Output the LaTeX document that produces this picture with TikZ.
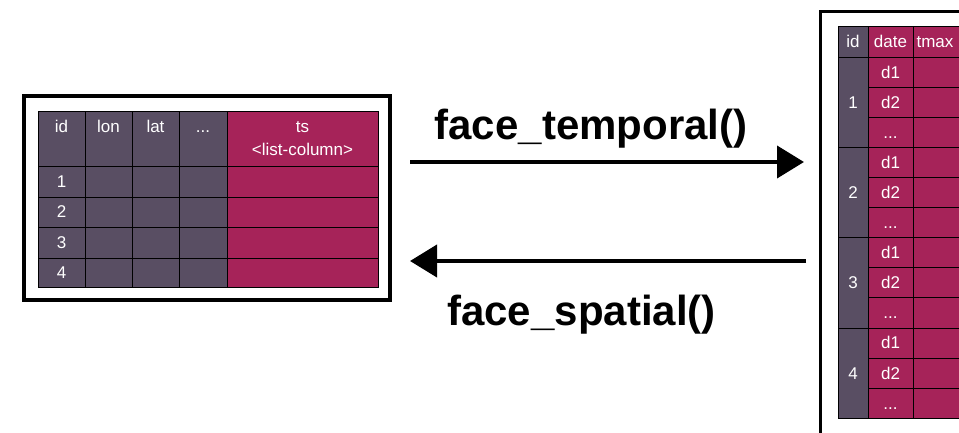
\documentclass[tikz,border=0pt]{standalone}
\usepackage{fontspec}
\setmainfont{Liberation Sans}
\usetikzlibrary{arrows.meta}
\definecolor{spcol}{RGB}{89,78,99}
\definecolor{tscol}{RGB}{166,35,89}
\newcommand{\celldots}{...}

\begin{document}
\begin{tikzpicture}[x=1pt,y=-1pt,
    cell/.style={draw=black,line width=0.8pt},
    lbl/.style={text=white,font=\fontsize{17}{19}\selectfont,inner sep=0pt,
      text height=12pt,text depth=0pt},
    fn/.style={font=\fontsize{42}{46}\selectfont\bfseries,inner sep=0pt,anchor=base},
    bigarrow/.style={line width=4pt,-{Triangle[length=27pt,width=32pt]}}]
    \useasboundingbox (0,0) rectangle (959,433);
    \clip (0,0) rectangle (959,433);
    % spatial table (left)
    \foreach \xa/\xb in {38/85,85/132,132/179,179/227}
      \foreach \ya/\yb in {111/166,166/197,197/227,227/258,258/287}
        \draw[cell,fill=spcol] (\xa,\ya) rectangle (\xb,\yb);
    \foreach \ya/\yb in {111/166,166/197,197/227,227/258,258/287}
      \draw[cell,fill=tscol] (227,\ya) rectangle (378,\yb);
    \draw[line width=4pt] (24,96) rectangle (390,300);
    \node[lbl] (sid) at (61.5,127) {id};
    \node[lbl] (slon) at (108.5,127) {lon};
    \node[lbl] (slat) at (155.5,127) {lat};
    \node[lbl] (sdots) at (203,127) {\celldots};
    \node[lbl] (sts) at (302.5,127) {ts};
    \node[lbl] (slist) at (302.5,150) {<list-column>};
    \foreach \i/\y in {1/181.5,2/212,3/242.5,4/272.5}
      \node[lbl] (srow\i) at (61.5,\y) {\i};
    % temporal table (right)
    \pgfmathsetmacro{\ttop}{26}
    \pgfmathsetmacro{\hd}{57}
    \pgfmathsetmacro{\h}{30.1}
    \draw[cell,fill=spcol] (838,\ttop) rectangle (868,\hd);
    \draw[cell,fill=tscol] (868,\ttop) rectangle (913,\hd);
    \draw[cell,fill=tscol] (913,\ttop) rectangle (1000,\hd);
    \foreach \g/\n in {0/1,1/2,2/3,3/4} {
      \draw[cell,fill=spcol] (838,\hd+3*\g*\h) rectangle (868,\hd+3*\g*\h+3*\h);
      \node[lbl] (tid\g) at (853,\hd+3*\g*\h+1.5*\h) {\n};
      \foreach \r/\d in {0/d1,1/d2,2/\celldots} {
        \draw[cell,fill=tscol] (868,\hd+3*\g*\h+\r*\h) rectangle (913,\hd+3*\g*\h+\r*\h+\h);
        \draw[cell,fill=tscol] (913,\hd+3*\g*\h+\r*\h) rectangle (1000,\hd+3*\g*\h+\r*\h+\h);
        \node[lbl] (tdate\g\r) at (890.5,\hd+3*\g*\h+\r*\h+0.5*\h) {\d};
      }
    }
    \draw[line width=3pt] (820.5,11.5) rectangle (1010,434);
    \node[lbl] (tidh) at (853,42) {id};
    \node[lbl] (tdateh) at (890.5,42) {date};
    \node[lbl] (ttmaxh) at (935,42) {tmax};
    % arrows
    \coordinate (tempstart) at (410,162);
    \coordinate (tempend) at (804,162);
    \coordinate (spatstart) at (806,261);
    \coordinate (spatend) at (410,261);
    \draw[bigarrow] (tempstart) -- (tempend);
    \draw[bigarrow] (spatstart) -- (spatend);
    \node[fn] (temporal) at (591,140) {face\_temporal()};
    \node[fn] (spatial) at (581.5,325) {face\_spatial()};
  \end{tikzpicture}
\end{document}
